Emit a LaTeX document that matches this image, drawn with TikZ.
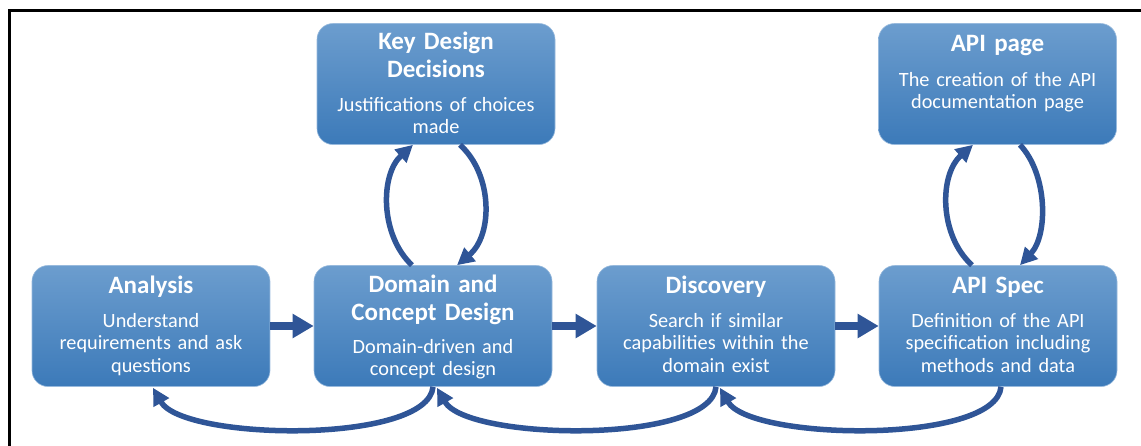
\documentclass[tikz,border=0pt]{standalone}
\usepackage{fontspec}
\setmainfont{Carlito}
\usetikzlibrary{arrows.meta,calc}
\definecolor{boxtop}{RGB}{108,157,206}
\definecolor{boxbot}{RGB}{60,122,185}
\definecolor{arrowblue}{RGB}{47,85,151}
\begin{document}
\begin{tikzpicture}[x=1pt,y=-1pt,
  box/.style={rectangle, rounded corners=16pt, minimum width=238pt, minimum height=121pt,
    top color=boxtop, bottom color=boxbot, draw=boxtop!70!white, line width=0.6pt, inner sep=0pt},
  ttl/.style={text=white, font=\bfseries\fontsize{25}{28}\selectfont, text width=234pt,
    align=center, anchor=base, inner sep=0pt},
  bdy/.style={text=white, font=\fontsize{20.3}{22.5}\selectfont, text width=234pt,
    align=center, anchor=base, inner sep=0pt},
  flow/.style={draw=arrowblue, line width=8pt, -{Triangle[length=21pt,width=23pt]}},
  cyc/.style={draw=arrowblue, line width=5.5pt, -{Triangle[length=17pt,width=17pt]}},
]
\useasboundingbox (0,0) rectangle (1141,445);
\fill[white] (0,0) rectangle (1141,445);
\draw[line width=2.5pt] (9.7,446) -- (9.7,10.7) -- (1142,10.7);

% boxes
\node[box] (ana)  at (151,326) {};
\node[box] (dom)  at (433,326) {};
\node[box] (disc) at (716,326) {};
\node[box] (spec) at (998,326) {};
\node[box] (key)  at (436,84) {};
\node[box] (page) at (997.5,84) {};

% texts
\node[ttl] (anaT) at ($(ana.north)+(0,28)$) {Analysis};
\node[bdy] (anaB) at ($(ana.north)+(0,62)$) {Understand\\requirements and ask\\questions};
\node[ttl] (domT) at ($(dom.north)+(0,27)$) {Domain and\\Concept Design};
\node[bdy] (domB) at ($(dom.north)+(0,88)$) {Domain-driven and\\concept design};
\node[ttl] (discT) at ($(disc.north)+(0,28)$) {Discovery};
\node[bdy] (discB) at ($(disc.north)+(0,62)$) {Search if similar\\capabilities within the\\domain exist};
\node[ttl] (specT) at ($(spec.north)+(0,28)$) {API Spec};
\node[bdy] (specB) at ($(spec.north)+(0,62)$) {Definition of the API\\specification including\\methods and data};
\node[ttl] (keyT) at ($(key.north)+(0,26)$) {Key Design\\Decisions};
\node[bdy] (keyB) at ($(key.north)+(0,88)$) {Justifications of choices\\made};
\node[ttl] (pageT) at ($(page.north)+(0,28)$) {API page};
\node[bdy] (pageB) at ($(page.north)+(0,63)$) {The creation of the API\\documentation page};

% forward arrows
\draw[flow] (ana.east) -- (dom.west);
\draw[flow] (dom.east) -- (disc.west);
\draw[flow] (disc.east) -- (spec.west);

% loops Key Design <-> Domain
\draw[cyc] ($(dom.north)+(-21,0)$) .. controls ($(dom.north)+(-53,-30)$) and ($(key.south)+(-56,30)$) .. ($(key.south)+(-23,0)$);
\draw[cyc] ($(key.south)+(24,0)$) .. controls ($(key.south)+(57,30)$) and ($(dom.north)+(60,-30)$) .. ($(dom.north)+(24,0)$);

% loops API page <-> API Spec
\draw[cyc] ($(spec.north)+(-26,0)$) .. controls ($(spec.north)+(-59,-30)$) and ($(page.south)+(-58.5,30)$) .. ($(page.south)+(-24.5,0)$);
\draw[cyc] ($(page.south)+(22.5,0)$) .. controls ($(page.south)+(50.5,30)$) and ($(spec.north)+(50,-30)$) .. ($(spec.north)+(22,0)$);

% backward arcs
\draw[cyc] (dom.south) .. controls ($(dom.south)+(-5,58)$) and ($(ana.south)+(32,54)$) .. ($(ana.south)+(2,1)$);
\draw[cyc] (disc.south) .. controls ($(disc.south)+(-5,58)$) and ($(dom.south)+(34,54)$) .. ($(dom.south)+(4,1)$);
\draw[cyc] ($(spec.south)+(3,0)$) .. controls ($(spec.south)+(-2,58)$) and ($(disc.south)+(34,54)$) .. ($(disc.south)+(4,1)$);
\end{tikzpicture}
\end{document}
